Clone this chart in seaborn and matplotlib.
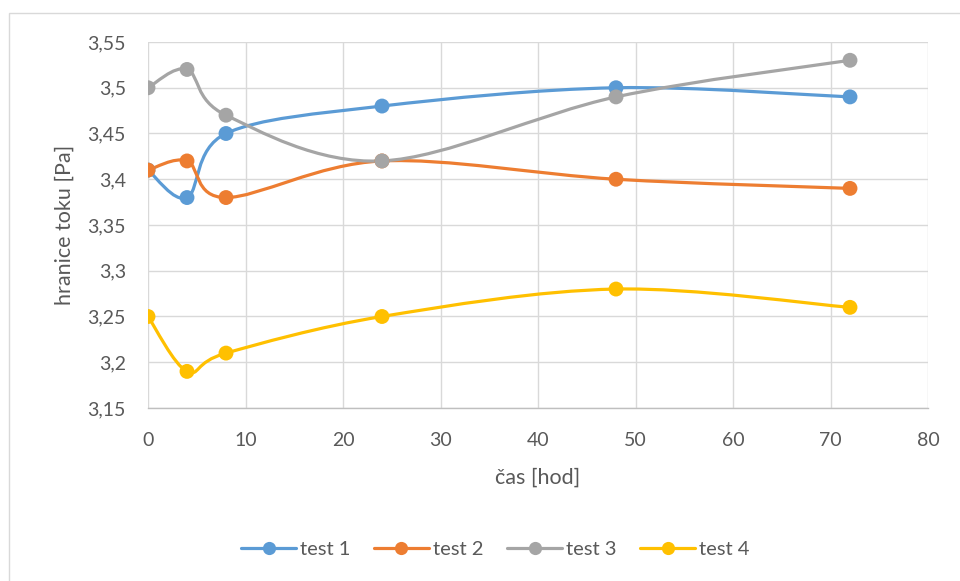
import numpy as np
import pandas as pd
import matplotlib
matplotlib.use("Agg")
import matplotlib.pyplot as plt
from matplotlib.path import Path
from matplotlib.patches import PathPatch, Rectangle
from matplotlib.lines import Line2D
from matplotlib.ticker import FuncFormatter, MultipleLocator
import seaborn as sns

# ---- data ----
hours = [0, 4, 8, 24, 48, 72]
test1 = [3.41, 3.38, 3.45, 3.48, 3.50, 3.49]
test2 = [3.41, 3.42, 3.38, 3.42, 3.40, 3.39]
test3 = [3.50, 3.52, 3.47, 3.42, 3.49, 3.53]
test4 = [3.25, 3.19, 3.21, 3.25, 3.28, 3.26]
series_names = ["test 1", "test 2", "test 3", "test 4"]
colors = ["#5B9BD5", "#ED7D31", "#A5A5A5", "#FFC000"]
xlabel = "čas [hod]"
ylabel = "hranice toku [Pa]"

sns.set_theme(style="white")
plt.rcParams['font.family'] = ['Lato', 'DejaVu Sans']
text_color = "#595959"

df = pd.DataFrame({
    "x": hours * 4,
    "y": test1 + test2 + test3 + test4,
    "series": sum([[n] * len(hours) for n in series_names], []),
})

fig = plt.figure(figsize=(9.6, 5.81), dpi=100)
ax = fig.add_axes([148 / 960, 1 - 408 / 581, 780 / 960, 366 / 581])

# figure border (left & top visible)
fig.patches.append(Rectangle((9 / 960, -0.1), 1.2, (581 - 13) / 581 + 0.1,
                             transform=fig.transFigure, fill=False,
                             edgecolor="#D9D9D9", linewidth=1.0, zorder=0))


def smooth_path(xs, ys):
    pts = np.column_stack([xs, ys]).astype(float)
    n = len(pts)
    verts = [pts[0]]
    codes = [Path.MOVETO]
    for i in range(n - 1):
        p0 = pts[i - 1] if i > 0 else pts[i]
        p1 = pts[i]
        p2 = pts[i + 1]
        p3 = pts[i + 2] if i + 2 < n else pts[i + 1]
        c1 = p1 + (p2 - p0) / 6.0
        c2 = p2 - (p3 - p1) / 6.0
        verts += [c1, c2, p2]
        codes += [Path.CURVE4] * 3
    return Path(verts, codes)


for name, col in zip(series_names, colors):
    sub = df[df["series"] == name]
    path = smooth_path(sub["x"].values, sub["y"].values)
    ax.add_patch(PathPatch(path, facecolor="none", edgecolor=col,
                           linewidth=2.3, capstyle="round", zorder=3))

sns.scatterplot(data=df, x="x", y="y", hue="series", palette=colors,
                s=115, edgecolor="none", linewidth=0, ax=ax, legend=False,
                zorder=4)

ax.set_xlim(0, 80)
ax.set_ylim(3.15, 3.55)
ax.xaxis.set_major_locator(MultipleLocator(10))
ax.yaxis.set_major_locator(MultipleLocator(0.05))
ax.yaxis.set_major_formatter(FuncFormatter(lambda v, p: f"{v:.2f}".rstrip("0").rstrip(".").replace(".", ",")))
ax.xaxis.set_major_formatter(FuncFormatter(lambda v, p: f"{v:g}"))
ax.grid(True, color="#D9D9D9", linewidth=1.0)
ax.set_axisbelow(True)
for s in ["top", "right", "left"]:
    ax.spines[s].set_visible(False)
ax.spines["bottom"].set_color("#BFBFBF")
ax.spines["bottom"].set_linewidth(1.0)
ax.tick_params(axis="both", length=0, labelsize=14, labelcolor=text_color)
ax.tick_params(axis="x", pad=17)
ax.tick_params(axis="y", pad=16)
ax.set_xlabel(xlabel, fontsize=15.5, color=text_color, labelpad=14)
ax.set_ylabel(ylabel, fontsize=15.5, color=text_color, labelpad=9)

handles = [Line2D([0], [0], color=c, lw=2.3, marker="o", markersize=9.5,
                  markeredgewidth=0) for c in colors]
fig.legend(handles, series_names, loc="center", bbox_to_anchor=(0.516, 1 - 549 / 581),
           ncol=4, frameon=False, fontsize=14.5, labelcolor=text_color,
           handlelength=2.7, handletextpad=0.2, columnspacing=1.2)

fig.savefig("out.png", dpi=100)
